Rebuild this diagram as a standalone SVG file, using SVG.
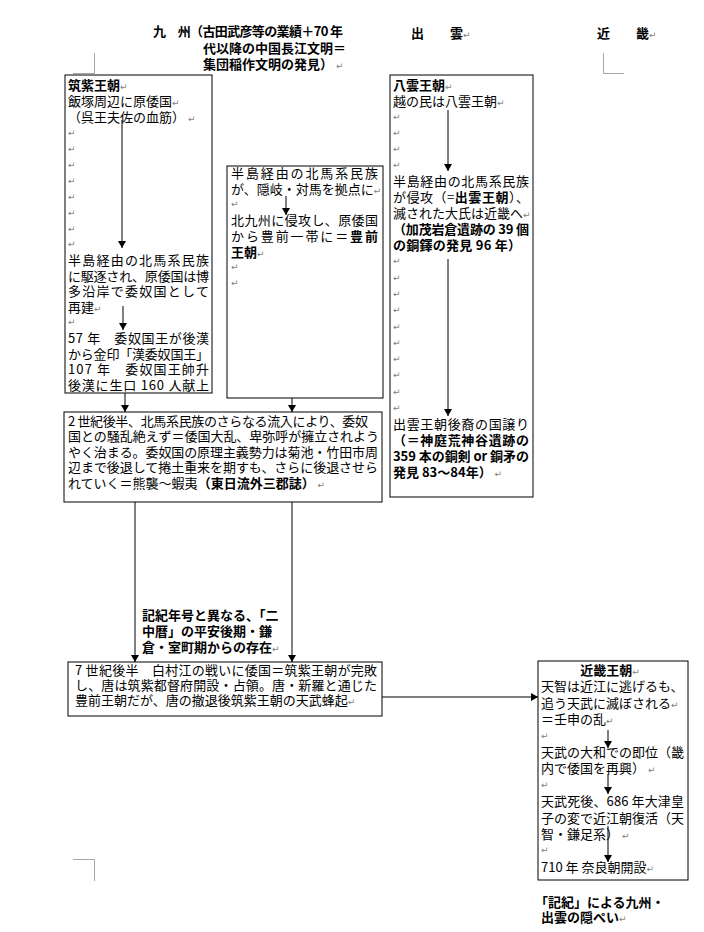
<svg xmlns="http://www.w3.org/2000/svg" width="704" height="932" viewBox="0 0 704 932">
<style>
.box{fill:#fff;stroke:#000;stroke-width:1}
.t{font-family:"Noto Sans CJK JP","Noto Sans CJK SC",sans-serif;font-size:13px;fill:#000}
.b{font-weight:bold}
.p{font-family:"DejaVu Sans",sans-serif;font-size:9px;fill:#808080;font-weight:normal}
.c{stroke:#000;stroke-width:1;fill:none}
.m{stroke:#a6a6a6;stroke-width:1;fill:none}
</style>
<defs>
<marker id="ah" markerWidth="7" markerHeight="8" refX="7" refY="4" orient="auto" markerUnits="userSpaceOnUse"><path d="M0,0 L7,4 L0,8 z" fill="#000"/></marker>
</defs>
<rect width="704" height="932" fill="#fff"/>
<g id="marks">
<path class="m" d="M73,73.5 H94.5 V53"/>
<path class="m" d="M603.5,53 V73.5 H624"/>
<path class="m" d="M73,859.5 H94.5 V881"/>
</g>
<g id="headers">
<text class="t b" x="153" y="36" textLength="190" lengthAdjust="spacing">九　州（古田武彦等の業績＋70 年</text>
<text class="t b" x="203" y="53">代以降の中国長江文明＝</text>
<text class="t b" x="203" y="69">集団稲作文明の発見）<tspan class="p"> ↵</tspan></text>
<text class="t b" x="411" y="38">出　　雲<tspan class="p">↵</tspan></text>
<text class="t b" x="597" y="38">近　　畿<tspan class="p">↵</tspan></text>
</g>
<g id="chikushi">
<rect class="box" x="65" y="75" width="147" height="318"/>
<text class="t" x="68" y="90"><tspan class="b">筑紫王朝</tspan><tspan class="p">↵</tspan></text>
<text class="t" x="68" y="106">飯塚周辺に原倭国<tspan class="p">↵</tspan></text>
<text class="t" x="68" y="122">（呉王夫佐の血筋）<tspan class="p"> ↵</tspan></text>
<text class="p" x="68" y="136">↵</text>
<text class="p" x="68" y="152">↵</text>
<text class="p" x="68" y="168">↵</text>
<text class="p" x="68" y="184">↵</text>
<text class="p" x="68" y="200">↵</text>
<text class="p" x="68" y="216">↵</text>
<text class="p" x="68" y="232">↵</text>
<text class="p" x="68" y="247">↵</text>
<text class="t" x="68" y="265" textLength="141" lengthAdjust="spacing">半島経由の北馬系民族</text>
<text class="t" x="68" y="280.5" textLength="141" lengthAdjust="spacing">に駆逐され、原倭国は博</text>
<text class="t" x="68" y="296" textLength="141" lengthAdjust="spacing">多沿岸で委奴国として</text>
<text class="t" x="68" y="311.5">再建<tspan class="p">↵</tspan></text>
<text class="p" x="68" y="325">↵</text>
<text class="t" x="68" y="343" textLength="141" lengthAdjust="spacing">57 年　委奴国王が後漢</text>
<text class="t" x="68" y="358.5" textLength="141" lengthAdjust="spacing">から金印「漢委奴国王」</text>
<text class="t" x="68" y="374" textLength="141" lengthAdjust="spacing">107 年　委奴国王帥升</text>
<text class="t" x="68" y="389.5" textLength="141" lengthAdjust="spacing">後漢に生口 160 人献上</text>
</g>
<g id="buzen">
<rect class="box" x="227" y="166" width="156" height="232"/>
<text class="t" x="231" y="178" textLength="147" lengthAdjust="spacing">半島経由の北馬系民族</text>
<text class="t" x="231" y="193.7">が、隠岐・対馬を拠点に<tspan class="p">↵</tspan></text>
<text class="p" x="231" y="207.4">↵</text>
<text class="t" x="231" y="225.1" textLength="147" lengthAdjust="spacing">北九州に侵攻し、原倭国</text>
<text class="t" x="231" y="240.8" textLength="147" lengthAdjust="spacing">から豊前一帯に＝<tspan class="b">豊前</tspan></text>
<text class="t" x="231" y="256.5"><tspan class="b">王朝</tspan><tspan class="p">↵</tspan></text>
<text class="p" x="231" y="270.2">↵</text>
<text class="p" x="231" y="285.9">↵</text>
</g>
<g id="yakumo">
<rect class="box" x="390" y="75" width="143" height="422"/>
<text class="t" x="393" y="90"><tspan class="b">八雲王朝</tspan><tspan class="p">↵</tspan></text>
<text class="t" x="393" y="106">越の民は八雲王朝<tspan class="p">↵</tspan></text>
<text class="p" x="393" y="120">↵</text>
<text class="p" x="393" y="136">↵</text>
<text class="p" x="393" y="152">↵</text>
<text class="p" x="393" y="168">↵</text>
<text class="t" x="393" y="186" textLength="136" lengthAdjust="spacing">半島経由の北馬系民族</text>
<text class="t" x="393" y="202" textLength="136" lengthAdjust="spacing">が侵攻（=<tspan class="b">出雲王朝</tspan>）、</text>
<text class="t" x="393" y="218">滅された大氏は近畿へ<tspan class="p">↵</tspan></text>
<text class="t b" x="393" y="234" textLength="136" lengthAdjust="spacing">（加茂岩倉遺跡の 39 個</text>
<text class="t b" x="393" y="250" textLength="128" lengthAdjust="spacing">の銅鐸の発見 96 年）</text>
<text class="p" x="393" y="264.3">↵</text>
<text class="p" x="393" y="280.6">↵</text>
<text class="p" x="393" y="296.9">↵</text>
<text class="p" x="393" y="313.2">↵</text>
<text class="p" x="393" y="329.5">↵</text>
<text class="p" x="393" y="345.8">↵</text>
<text class="p" x="393" y="362.1">↵</text>
<text class="p" x="393" y="378.4">↵</text>
<text class="p" x="393" y="394.7">↵</text>
<text class="p" x="393" y="411">↵</text>
<text class="t" x="393" y="429.3" textLength="136" lengthAdjust="spacing">出雲王朝後裔の国譲り</text>
<text class="t b" x="393" y="445" textLength="136" lengthAdjust="spacing">（＝神庭荒神谷遺跡の</text>
<text class="t b" x="393" y="461" textLength="136" lengthAdjust="spacing">359 本の銅剣 or 銅矛の</text>
<text class="t" x="393" y="477"><tspan class="b">発見 83～84年）</tspan><tspan class="p"> ↵</tspan></text>
</g>
<g id="wakoku">
<rect class="box" x="64" y="412" width="318" height="90"/>
<text class="t" x="68" y="425.5" textLength="300" lengthAdjust="spacing">2 世紀後半、北馬系民族のさらなる流入により、委奴</text>
<text class="t" x="68" y="441" textLength="311" lengthAdjust="spacing">国との騒乱絶えず＝倭国大乱、卑弥呼が擁立されよう</text>
<text class="t" x="68" y="456.5" textLength="310" lengthAdjust="spacing">やく治まる。委奴国の原理主義勢力は菊池・竹田市周</text>
<text class="t" x="68" y="472" textLength="310" lengthAdjust="spacing">辺まで後退して捲土重来を期すも、さらに後退させら</text>
<text class="t" x="68" y="487.5">れていく＝熊襲～蝦夷<tspan class="b">（東日流外三郡誌）</tspan><tspan class="p"> ↵</tspan></text>
</g>
<g id="label">
<text class="t b" x="142" y="620">記紀年号と異なる、「二</text>
<text class="t b" x="142" y="636">中暦」の平安後期・鎌</text>
<text class="t b" x="142" y="652">倉・室町期からの存在<tspan class="p">↵</tspan></text>
</g>
<g id="hakusonko">
<rect class="box" x="68" y="662" width="314" height="54"/>
<text class="t" x="75" y="675" textLength="302" lengthAdjust="spacing">7 世紀後半　白村江の戦いに倭国＝筑紫王朝が完敗</text>
<text class="t" x="75" y="690" textLength="302" lengthAdjust="spacing">し、唐は筑紫都督府開設・占領。唐・新羅と通じた</text>
<text class="t" x="75" y="705">豊前王朝だが、唐の撤退後筑紫王朝の天武蜂起<tspan class="p">↵</tspan></text>
</g>
<g id="kinki">
<rect class="box" x="538" y="661" width="150" height="219"/>
<text class="t" x="610" y="675" text-anchor="middle"><tspan class="b">近畿王朝</tspan><tspan class="p">↵</tspan></text>
<text class="t" x="541" y="691.4">天智は近江に逃げるも、</text>
<text class="t" x="541" y="707.8">追う天武に滅ぼされる<tspan class="p">↵</tspan></text>
<text class="t" x="541" y="724.2">＝壬申の乱<tspan class="p">↵</tspan></text>
<text class="p" x="541" y="738.6">↵</text>
<text class="t" x="541" y="757">天武の大和での即位（畿</text>
<text class="t" x="541" y="773.4">内で倭国を再興）<tspan class="p"> ↵</tspan></text>
<text class="p" x="541" y="787.8">↵</text>
<text class="t" x="541" y="806.2" textLength="143" lengthAdjust="spacing">天武死後、686 年大津皇</text>
<text class="t" x="541" y="822.6">子の変で近江朝復活（天</text>
<text class="t" x="541" y="839">智・鎌足系）<tspan class="p"> ↵</tspan></text>
<text class="p" x="541" y="853.4">↵</text>
<text class="t" x="541" y="871.8">710 年  奈良朝開設<tspan class="p">↵</tspan></text>
</g>
<g id="caption">
<text class="t b" x="535" y="907">「記紀」による九州・</text>
<text class="t b" x="541" y="922">出雲の隠ぺい<tspan class="p">↵</tspan></text>
</g>
<g id="connectors">
<line class="c" x1="122" y1="120" x2="122" y2="248" marker-end="url(#ah)"/>
<line class="c" x1="123" y1="306" x2="123" y2="330" marker-end="url(#ah)"/>
<line class="c" x1="125" y1="393" x2="125" y2="412" marker-end="url(#ah)"/>
<line class="c" x1="286" y1="196" x2="286" y2="215" marker-end="url(#ah)"/>
<line class="c" x1="292" y1="398" x2="292" y2="412" marker-end="url(#ah)"/>
<line class="c" x1="448" y1="110" x2="448" y2="171" marker-end="url(#ah)"/>
<line class="c" x1="448" y1="259" x2="448" y2="416" marker-end="url(#ah)"/>
<line class="c" x1="135" y1="502" x2="135" y2="662" marker-end="url(#ah)"/>
<line class="c" x1="292" y1="502" x2="292" y2="662" marker-end="url(#ah)"/>
<line class="c" x1="382" y1="697" x2="538" y2="697" marker-end="url(#ah)"/>
<line class="c" x1="608" y1="730" x2="608" y2="748" marker-end="url(#ah)"/>
<line class="c" x1="608" y1="774" x2="608" y2="794" marker-end="url(#ah)"/>
<line class="c" x1="608" y1="826" x2="608" y2="862" marker-end="url(#ah)"/>
</g>
</svg>
